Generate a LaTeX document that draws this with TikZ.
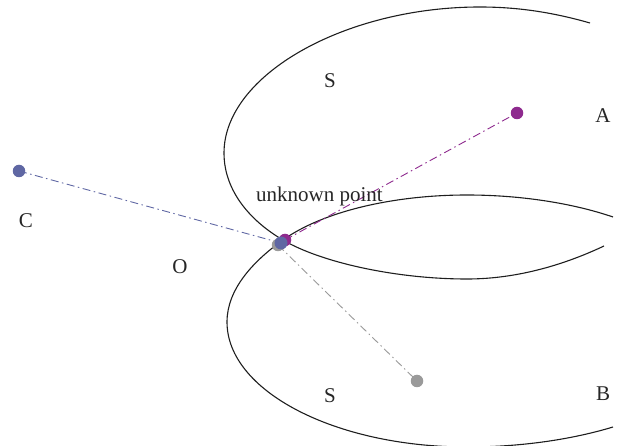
\documentclass[tikz,border=0pt]{standalone}
\usepackage{fontspec}
\setmainfont{Liberation Serif}
\definecolor{dotpurple}{HTML}{8E2A8E}
\definecolor{dotblue}{HTML}{5F67A3}
\definecolor{dotgray}{HTML}{9A9A9A}
\definecolor{curvecol}{HTML}{1E1E1E}
\tikzset{
  lbl/.style={font=\fontsize{21}{24}\selectfont, text=black!85, inner sep=0pt, anchor=base},
  dotnode/.style={circle, inner sep=0pt, minimum size=12.5pt, fill=#1, draw=none},
  dashdot/.style={line width=0.9pt, dash pattern=on 8pt off 3.5pt on 1.5pt off 3.5pt},
  curve/.style={line width=1.1pt, draw=curvecol}
}
\begin{document}
\begin{tikzpicture}[x=1pt,y=-1pt]
\useasboundingbox (0,0) rectangle (619,446);
% upper curve
\draw[curve] (590,23) .. controls (555,13) and (520,7) .. (480,7)
  .. controls (345,7) and (224,75) .. (224,153)
  .. controls (224,192) and (252,222) .. (283,240)
  .. controls (320,262) and (395,279) .. (467,279)
  .. controls (520,279) and (568,263) .. (604,246);
% lower curve
\draw[curve] (613,217) .. controls (572,203) and (520,195) .. (467,195)
  .. controls (392,195) and (322,212) .. (283,240)
  .. controls (252,262) and (227,290) .. (227,322)
  .. controls (227,391) and (335,447) .. (467,447)
  .. controls (530,447) and (580,437) .. (613,427);
% points
\coordinate (pA) at (517,113);
\coordinate (pC) at (19,171);
\coordinate (pG) at (417,381);
\coordinate (pOg) at (278,245);
\coordinate (pOp) at (285,240);
\coordinate (pOb) at (281,243);
% connectors
\draw[dashdot, dotblue] (pC) -- (pOb);
\draw[dashdot, dotpurple] (pOp) -- (pA);
\draw[dashdot, dotgray] (pOg) -- (pG);
% dots
\node[dotnode=dotpurple] (A) at (pA) {};
\node[dotnode=dotblue] (C) at (pC) {};
\node[dotnode=dotgray] (G) at (pG) {};
\node[dotnode=dotgray] (Og) at (pOg) {};
\node[dotnode=dotpurple] (Op) at (pOp) {};
\node[dotnode=dotblue, minimum size=13pt] (Ob) at (pOb) {};
% labels
\node[lbl] (lS1) at (330,88) {S};
\node[lbl] (lS2) at (330,403) {S};
\node[lbl] (lA) at (603,123) {A};
\node[lbl] (lB) at (603,401) {B};
\node[lbl] (lC) at (26,228) {C};
\node[lbl] (lO) at (180,274) {O};
\node[lbl] (lU) at (319.5,202) {unknown point};
\end{tikzpicture}
\end{document}
